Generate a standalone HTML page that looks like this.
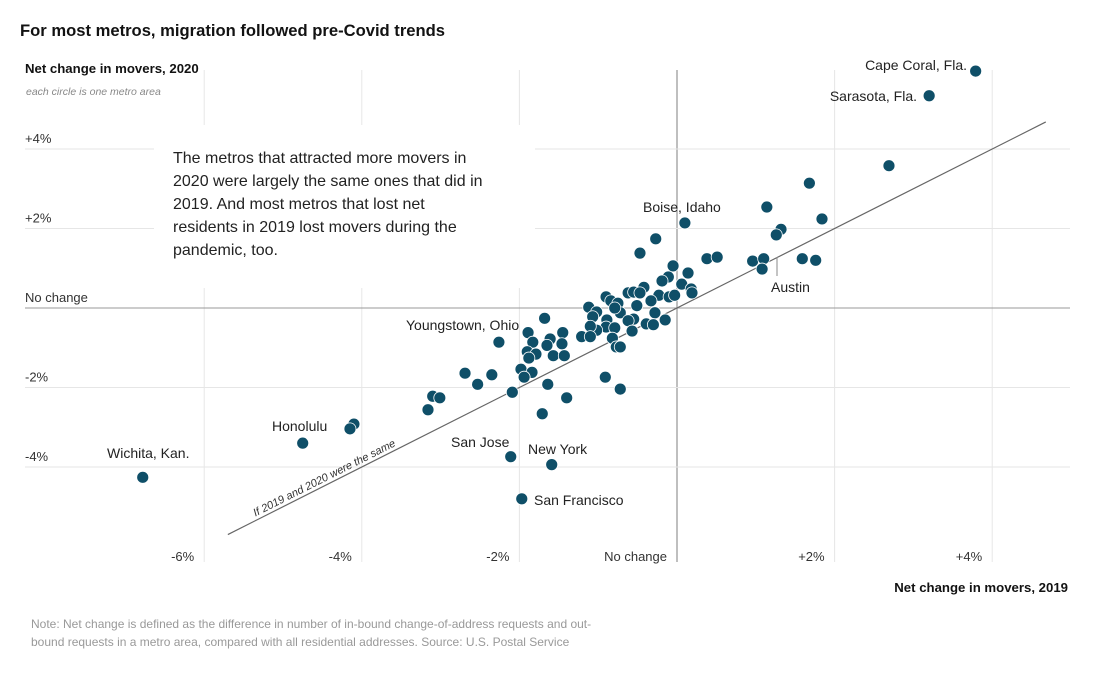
<!DOCTYPE html>
<html><head><meta charset="utf-8"><style>
body{margin:0;background:#fff;}
svg{display:block;font-family:"Liberation Sans",sans-serif;}
</style></head><body>
<svg id="chart" width="1102" height="674" viewBox="0 0 1102 674">
<text x="20" y="36" font-size="16.6" font-weight="bold" fill="#121212">For most metros, migration followed pre-Covid trends</text>
<text x="25" y="73" font-size="13.2" font-weight="bold" fill="#121212">Net change in movers, 2020</text>
<text x="26" y="95" font-size="10.5" font-style="italic" fill="#888">each circle is one metro area</text>
<g id="grid"></g>
<rect x="154" y="125" width="381" height="163" fill="#fff"/>
<text font-size="16" fill="#222">
<tspan x="173" y="163">The metros that attracted more movers in</tspan>
<tspan x="173" y="186">2020 were largely the same ones that did in</tspan>
<tspan x="173" y="209">2019. And most metros that lost net</tspan>
<tspan x="173" y="232">residents in 2019 lost movers during the</tspan>
<tspan x="173" y="255">pandemic, too.</tspan>
</text>
<g id="ticks"></g>
<line id="diag" stroke="#666" stroke-width="1.2"/>
<text id="diagLabel" font-size="11" font-style="italic" fill="#333">If 2019 and 2020 were the same</text>
<g id="dots"></g>
<line x1="777" y1="257" x2="777" y2="276" stroke="#888"/>
<g font-size="14" fill="#222">
<text x="967" y="70" text-anchor="end">Cape Coral, Fla.</text>
<text x="917" y="101" text-anchor="end">Sarasota, Fla.</text>
<text x="643" y="212">Boise, Idaho</text>
<text x="771" y="292">Austin</text>
<text x="406" y="330">Youngstown, Ohio</text>
<text x="272" y="431">Honolulu</text>
<text x="107" y="458">Wichita, Kan.</text>
<text x="451" y="447">San Jose</text>
<text x="528" y="454">New York</text>
<text x="534" y="505">San Francisco</text>
</g>
<text x="1068" y="592" text-anchor="end" font-size="13.2" font-weight="bold" fill="#121212">Net change in movers, 2019</text>
<text font-size="12" fill="#999">
<tspan x="31" y="628">Note: Net change is defined as the difference in number of in-bound change-of-address requests and out-</tspan>
<tspan x="31" y="646">bound requests in a metro area, compared with all residential addresses. Source: U.S. Postal Service</tspan>
</text>
</svg>
<script>
const xTicks = [-6, -4, -2, 0, 2, 4];
const xTickLabels = ["-6%", "-4%", "-2%", "No change", "+2%", "+4%"];
const yTicks = [4, 2, 0, -2, -4];
const yTickLabels = ["+4%", "+2%", "No change", "-2%", "-4%"];
const x2019 = [3.79,3.20,2.69,1.68,1.14,1.84,0.10,1.32,1.26,0.38,0.51,0.96,1.10,1.08,1.59,1.76,-0.27,-0.47,-0.05,0.14,-0.11,-0.19,0.06,0.18,0.19,-0.42,-0.62,-0.55,-0.47,-0.23,-0.10,-0.03,-0.33,-0.90,-0.84,-0.75,-0.51,-0.72,-0.79,-1.12,-1.02,-0.28,-0.15,-0.39,-0.30,-0.55,-0.62,-0.57,-1.07,-0.89,-0.90,-0.79,-1.02,-1.10,-1.21,-1.10,-0.82,-0.77,-0.72,-1.68,-2.26,-1.89,-1.83,-1.61,-1.45,-1.46,-1.65,-1.90,-1.79,-1.57,-1.43,-1.88,-1.98,-1.84,-1.94,-2.35,-2.69,-2.53,-2.09,-1.64,-1.40,-1.71,-0.91,-0.72,-3.10,-3.01,-3.16,-4.10,-4.15,-4.75,-2.11,-1.59,-1.97,-6.78];
const y2020 = [5.96,5.34,3.58,3.14,2.54,2.24,2.14,1.98,1.84,1.24,1.28,1.18,1.24,0.98,1.24,1.20,1.74,1.38,1.06,0.88,0.78,0.68,0.60,0.48,0.38,0.52,0.38,0.40,0.38,0.32,0.28,0.32,0.18,0.28,0.18,0.12,0.06,-0.12,0.00,0.02,-0.10,-0.12,-0.30,-0.40,-0.42,-0.28,-0.32,-0.58,-0.22,-0.30,-0.48,-0.50,-0.56,-0.46,-0.72,-0.72,-0.76,-0.98,-0.98,-0.26,-0.86,-0.62,-0.86,-0.78,-0.62,-0.90,-0.94,-1.10,-1.16,-1.20,-1.20,-1.26,-1.54,-1.62,-1.74,-1.68,-1.64,-1.92,-2.12,-1.92,-2.26,-2.66,-1.74,-2.04,-2.22,-2.26,-2.56,-2.92,-3.04,-3.40,-3.74,-3.94,-4.80,-4.26];
const lineX = [-5.70, 4.68];

const NS = "http://www.w3.org/2000/svg";
const xs = v => 677 + v * 78.8;
const ys = v => 308 - v * 39.75;
function mk(tag, attrs, parent){const e=document.createElementNS(NS,tag);for(const k in attrs)e.setAttribute(k,attrs[k]);parent.appendChild(e);return e;}
const grid=document.getElementById('grid'), ticks=document.getElementById('ticks'), dots=document.getElementById('dots');
xTicks.forEach((t,i)=>{
  const l=mk('line',{x1:xs(t),x2:xs(t),y1:70,y2:562,stroke:t===0?'#aaa':'#e6e6e6','stroke-width':t===0?1.5:1},grid);
  
  
  const tx=mk('text',{x:xs(t)-10,y:561,'text-anchor':'end','font-size':13,fill:'#333'},ticks);
  tx.textContent=xTickLabels[i];
  
  
});
yTicks.forEach((t,i)=>{
  const l=mk('line',{x1:25,x2:1070,y1:ys(t),y2:ys(t),stroke:t===0?'#999':'#e6e6e6','stroke-width':1},grid);
  
  
  const tx=mk('text',{x:25,y:ys(t)-6,'font-size':13,fill:'#333'},ticks);
  tx.textContent=yTickLabels[i];
  
  
});
const d=document.getElementById('diag');
d.setAttribute('x1',xs(lineX[0]));d.setAttribute('y1',ys(lineX[0]));
d.setAttribute('x2',xs(lineX[1]));d.setAttribute('y2',ys(lineX[1]));
const ang=Math.atan2(ys(lineX[1])-ys(lineX[0]), xs(lineX[1])-xs(lineX[0]))*180/Math.PI;
const lx=xs(-5.35), ly=ys(-5.35)-4;
const dl=document.getElementById('diagLabel');
dl.setAttribute('x',lx);dl.setAttribute('y',ly);
dl.setAttribute('transform',`rotate(${ang} ${lx} ${ly})`);
x2019.forEach((v,i)=>{
  const c=mk('circle',{cx:xs(v),cy:ys(y2020[i]),r:6,fill:'#0f4f68',stroke:'#fff','stroke-width':0.8},dots);
  
  
});
</script>
</body></html>
